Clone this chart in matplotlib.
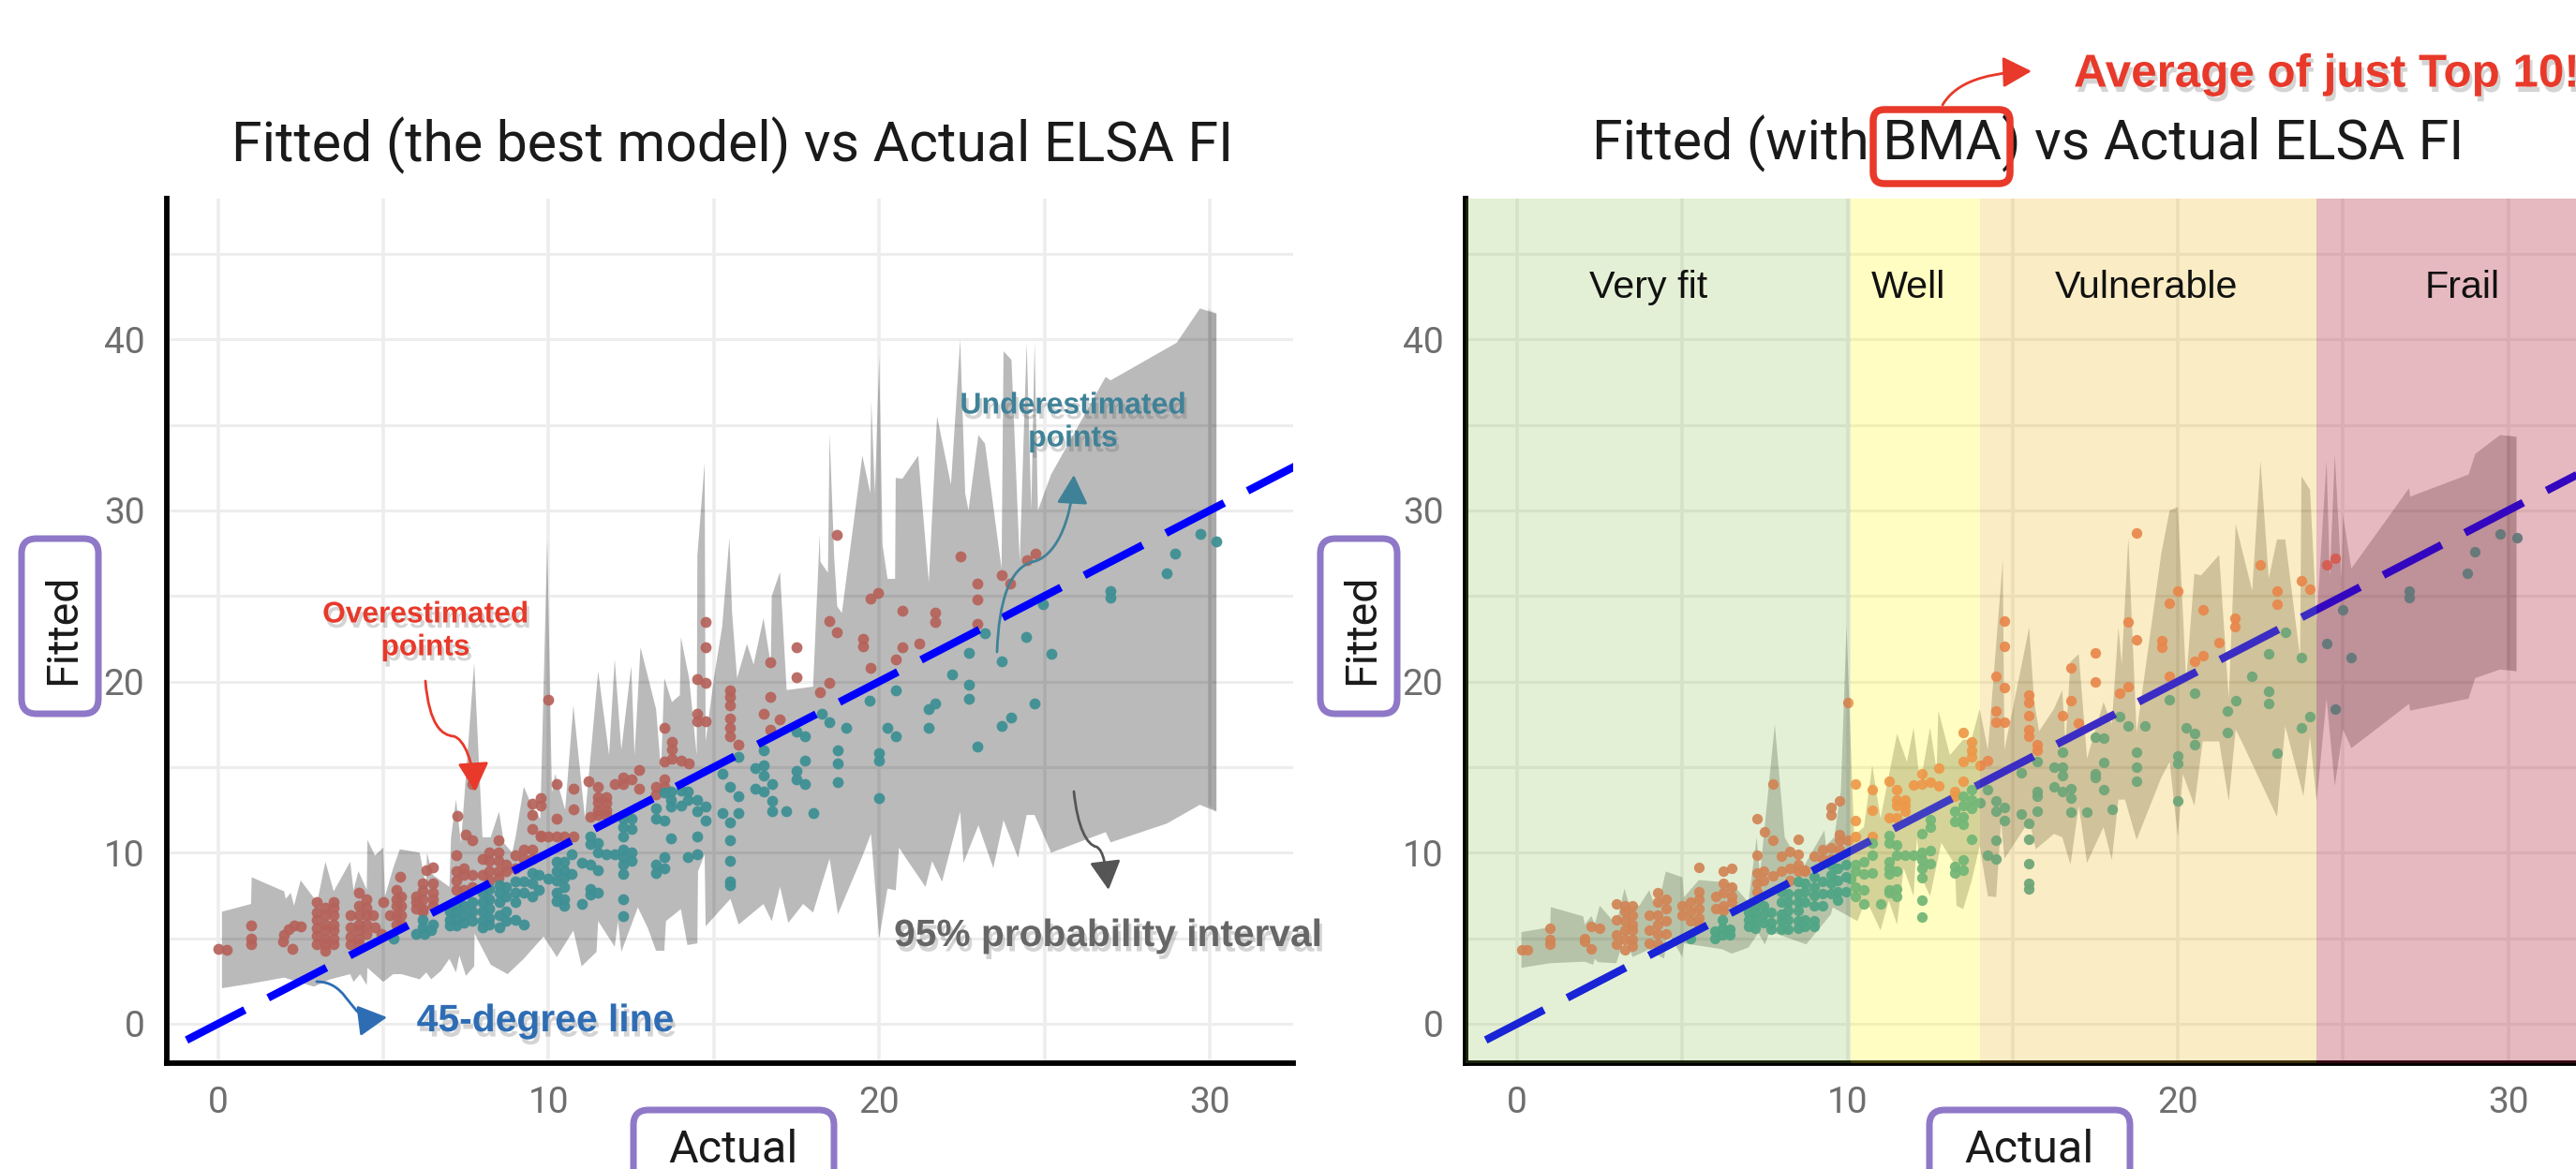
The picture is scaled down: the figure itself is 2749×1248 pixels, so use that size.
import matplotlib
matplotlib.use("Agg")
import matplotlib.pyplot as plt
import matplotlib.patheffects as pe
from matplotlib.patches import FancyBboxPatch, FancyArrowPatch
from matplotlib.path import Path
from matplotlib.transforms import Affine2D

W, H = 2749, 1248

# ---------- data (actual, [fitted...]) ----------
left_over = [(0.02,[4.4]),(0.26,[4.35]),(1,[5.73,5,4.64]),(1.96,[4.8]),(2,[5.2]),(2.25,[4.4]),(2.15,[5.55]),(2.3,[5.77]),(2.5,[5.68]),
 (3,[7.1,6.5,6.07,5.6,5.17,4.64]),(3.25,[6.8,6.36,5.8,5.46,5,4.64,4.27]),(3.5,[7.1,6.8,6.36,5.8,5.46,5,4.64]),(4,[6.36,5.63,5.1,4.64]),
 (4.25,[7.65,6.9,6.36,5.8,5.46,5,4.64]),(4.5,[7.3,6.8,6.36,5.8,5.27]),(4.7,[6.36]),(4.75,[5.63]),(4.95,[5.27]),(5,[7.1]),(5.2,[6.36]),
 (5.4,[7.8,7.3,6.9,6.36,5.8]),(5.5,[8.6]),(5.55,[7.46,6.9,6.36,5.8]),(6,[7.46,7.1,6.75]),(6.2,[8.2,7.75,7.3,6.75,6.55]),(6.3,[9]),
 (6.5,[9.15,8.2,7.65,7.3,6.9]),(7.2,[9.83,8.9,8.36,7.8]),(7.25,[12.17]),(7.45,[9.1,8.7,7.8]),(7.5,[11.06]),(7.7,[14,10.75,8.7,8]),
 (8,[9.65,8.7]),(8.2,[10,9.5,8.9,8.4]),(8.48,[10.75,10,9.5,8.9,8.55]),(8.7,[9.3,8.9]),(9,[9.83,9.1]),(9.25,[10.2,9.65]),
 (9.5,[12.85,12.2,11.4,10.2,9.65]),(9.75,[13.2,12.75,11,10.93]),(10,[18.92,10.93]),(10.23,[14,12,10.93]),(10.46,[10.93]),
 (10.75,[13.72,12.54,10.93]),(11.2,[14.2]),(11.25,[12.1]),(11.5,[13.85,13.25,12.9,12.5,12.2]),(11.75,[13.25,12.9,12.5,12.2]),
 (12,[14]),(12.25,[14.4,14.03]),(12.5,[14.3]),(12.73,[14.85,13.76]),(13.25,[13.85,13.4]),(13.5,[17.32,15.3,14.3,13.85]),
 (13.73,[16.5,16.04,15.5]),(14,[15.4]),(14.25,[15.2]),(14.5,[20.15,18.14,17.7]),(14.75,[23.5,22,19.9,17.7]),
 (15.5,[19.5,19.1,18.6,17.85,17.3,16.8]),(15.75,[16.3]),(16.5,[18.14]),(16.7,[21.1,19.1,17.2]),(17,[17.77]),(17.5,[22,20.27]),
 (18.2,[19.4]),(18.5,[23.56,19.9]),(18.72,[28.56,22.9]),(19.5,[22.5,22.06]),(19.74,[24.87,20.8]),(19.97,[25.2]),(20.5,[21.3]),
 (20.7,[24.14,22]),(21.2,[22.2]),(21.7,[24.04,23.5]),(22.47,[27.3]),(22.96,[25.7,24.8,23.35]),(23.7,[26.2]),(23.97,[25.7]),
 (24.46,[27.1]),(24.72,[27.5])]

left_under = [(5.3,[5]),(5.98,[5.27]),(6.2,[6.1,5.63]),(6.25,[5.27]),(6.45,[5.46]),(6.5,[5.8]),(7,[6.55,6.1,5.73]),(7.2,[6.9,6.55,6.1,5.73]),
 (7.45,[6.9,6.36,5.9]),(7.7,[7.1,6.55,6]),(8,[7.65,7.1,6.55,6,5.63]),(8.2,[7.86,7.3,6.75,6.2,5.8]),(8.5,[8.1,7.65,7.1,6.36,5.63]),
 (8.7,[8,7.45,6.55,6]),(9,[8.3,7.65,7.1,6.1]),(9.25,[8.3,7.65,5.8]),(9.5,[8.8,8.2,7.45]),(9.7,[8.7,7.8]),(10,[8.47]),
 (10.23,[9.47,8.92,8.38,7.65,7.19]),(10.46,[9.47,9,8.56,8,7.26,6.9]),(10.7,[9.93,8.74]),(11,[9.4,7]),(11.27,[10.93,10.5,9.3,7.9,7.55]),
 (11.5,[10.56,10,9,7.65]),(11.75,[9.93]),(12,[9.93]),(12.25,[12,11.5,10.93,10.2,9.75,9.3,8.74,7.27,6.27]),(12.5,[12,11.4,10,9.5]),
 (13.25,[12.6,12,9.3,8.8]),(13.5,[13.5,11.85,9.75,9.1]),(13.7,[13.6,13.1,12.67,10.85]),(14,[13.65,12.75]),(14.2,[13.55,13.1,9.75]),
 (14.5,[13.1,12.4,10.93,9.93]),(14.75,[12.67,11.9]),(15.25,[14.6,12.3]),(15.5,[13.85,11.75,10.75,9.5,8.3,8.1]),(15.75,[15.58,13.3,12.3]),
 (16.25,[14.95,13.75]),(16.5,[16,15.1,14.5,13.6]),(16.75,[14,13,12.4]),(17.2,[12.4]),(17.5,[17.1,14.8,14.3]),(17.75,[16.8,15.4,14]),
 (18,[12.3]),(18.25,[18.1]),(18.5,[17.6]),(18.75,[16,15.2,14.1]),(19,[17.3]),(19.7,[18.9]),(20,[15.8,15.4,13.2]),(20.25,[17.3]),
 (20.5,[19.5,16.8]),(21.5,[18.4,17.3]),(21.7,[18.7]),(22.2,[20.4]),(22.7,[21.7,19.8,19]),(22.96,[16.2]),(23.2,[22.8]),(23.7,[21.2,17.4]),
 (24,[17.9]),(24.45,[22.6]),(24.7,[18.7]),(24.95,[24.5]),(25.2,[21.6]),(27,[25.3,24.9]),(28.7,[26.3]),(28.95,[27.5]),(29.7,[28.6]),(30.2,[28.2])]

right_over = [(0.15,[4.33]),(0.3,[4.33]),(1,[5.6,4.9,4.64]),(2.05,[5,4.8]),(2.25,[5.7,4.4]),(2.5,[5.6]),(3,[7,6.1,5.2,4.64]),
 (3.25,[6.9,6.55,6,5.46,4.9,4.35]),(3.5,[6.9,6.36,5.8,5.46,4.9,4.55]),(4,[6.36,5.46,4.73]),(4.25,[7.65,7.1,6.36,5.8,5.27,4.64]),
 (4.5,[7.3,6.75,6,5.27]),(5,[6.9,6.36]),(5.25,[7.1,6.55,6]),(5.5,[9.15,7.7,7.3,6.75,6.2,5.8]),(6,[7.46,6.75]),(6.25,[8.9,8.2,7.65,6.9,6.6]),
 (6.5,[9.1,8,7.46,7.1]),(7.25,[12,9.85,8.8,8.2,7.7]),(7.45,[8.9,8.36]),(7.5,[11.2]),(7.75,[14,10.75,8.65]),(8,[9.8,8.9]),
 (8.25,[10.07,9.1,8.36]),(8.5,[10.8,9.93,9.3,8.9]),(8.7,[9,8.9]),(9,[9.8]),(9.25,[10.2,9.65]),(9.5,[12.65,12.2,10.3,9.65]),
 (9.75,[13,11.05,10.75,10.2]),(10,[18.8,10.75]),(10.25,[14,11.9,10.93]),(10.75,[13.7,12.5,10.93]),(11.25,[14.16,12.06]),
 (11.5,[13.7,13.1,12.75,12.06]),(11.75,[13.1,12.75,12.4]),(12,[13.94]),(12.25,[14.6,14]),(12.5,[14.1]),(12.75,[14.95,13.9]),
 (13.25,[13.6,13.3]),(13.5,[17.04,15.3,14.2]),(13.75,[16.5,16,15.6]),(14,[15.1]),(14.25,[15.4]),(14.5,[20.33,18.3,17.6]),
 (14.75,[23.56,22.06,19.65,17.6]),(15.5,[19.2,18.8,18,17.2,16.8]),(15.75,[16.3,16]),(16.5,[18]),(16.75,[20.8,18.87]),(17,[17.55]),
 (17.5,[21.7,20]),(18.25,[19.3]),(18.5,[23.5,19.7]),(18.75,[28.67,22.46]),(19.5,[22.4,22]),(19.75,[24.6,20.3]),(20,[25.3]),
 (20.5,[21.2]),(20.75,[24.2,21.5]),(21.24,[22.3]),(21.74,[23.7,23.2]),(22.5,[26.8]),(23,[25.3,24.5]),(23.74,[25.9]),(24,[25.4]),
 (24.5,[26.8]),(24.75,[27.2])]

right_under = [(5.25,[5]),(5.98,[5.4,5.0]),(6.2,[6.1,5.6,5.2]),(6.45,[5.5,5.2]),(7,[6.5,6.1,5.7]),(7.2,[6.9,6.5,6.1,5.6]),
 (7.45,[6.9,6.4,5.9]),(7.7,[6.5,5.9,5.5]),(8,[7.7,7.1,6.4,6,5.5]),(8.2,[7.6,7.1,6.6,6.1,5.5]),(8.5,[8.3,7.6,7.1,6.6,6,5.6]),
 (8.7,[8.2,7.7,7.1,6.1,5.7]),(9,[8.6,8,7.5,6.9,6,5.7]),(9.25,[8.3,7.6,6.9]),(9.5,[9.3,8.7,8.2,7.6]),(9.7,[9.1,8.4,7.7,7.2]),(9.95,[9.3,8.6,7.7]),
 (10.1,[8.47]),(10.25,[9.3,8.9,8,7.46]),(10.5,[9.47,8.74,7.8,7]),(10.75,[10.56,9.83,8.8]),(11,[7]),
 (11.25,[11,10.56,9.47,9.1,8.74,7.83,7.65]),(11.5,[10.47,9.83,8.9,7.9,7.46]),(11.75,[9.83]),(12,[9.83]),(12.25,[11.1,10,9.56,9.1,8.56,7.2,6.22]),
 (12.5,[11.93,11.5,10.1,9.38]),(13.25,[12.4,11.84,9.2,8.83]),(13.5,[13.3,12.76,12.1,11.66,9.56,9]),(13.75,[13.67,13.1,12.57,10.78]),
 (14,[12.94]),(14.25,[13.67,9.83]),(14.5,[13,12.4,10.75,9.65]),(14.75,[12.66,11.88]),(15.25,[14.67,12.24]),(15.5,[11.7,10.78,9.38,8.2,7.9]),
 (15.75,[15.35,13.58,13.3,12.4]),(16.25,[15,13.85]),(16.5,[15.86,15,14.5,13.58]),(16.75,[13.76,13.2,12.35]),(17.25,[12.35]),
 (17.5,[16.77,14.6,14.4]),(17.75,[16.68,15.27,13.67]),(18,[12.54]),(18.25,[17.96]),(18.5,[17.4]),(18.75,[15.86,15,14.18]),(19,[17.4]),
 (19.75,[18.96]),(20,[15.67,15.2,13.03]),(20.25,[17.3]),(20.5,[19.3,16.95,16.3]),(21.5,[18.3,17]),(21.75,[18.9]),(22.25,[20.3]),
 (22.75,[21.6,19.45,18.7]),(23,[15.8]),(23.25,[22.9]),(23.75,[21.4,17.3]),(24,[17.95]),(24.5,[22.2]),(24.75,[18.4]),(25,[24.2]),
 (25.25,[21.4]),(27,[25.3,24.9]),(28.75,[26.3]),(29,[27.6]),(29.75,[28.6]),(30.25,[28.4])]

left_upper = [(0.12,6.55),(1,7.0),(1.02,8.56),(2,7.74),(2.05,7.3),(2.2,7.65),(2.3,6.9),(2.5,8.38),(3,7.1),(3.25,9.47),(3.5,7.74),(4,9.47),
 (4.1,7.8),(4.25,8.92),(4.5,7.83),(4.52,10.75),(4.75,9.83),(5,10.3),(5.05,7.45),(5.3,9.1),(5.5,10.2),(6.1,10),(6.3,8),(6.32,10),(6.5,8.7),
 (7,8),(7.05,10.9),(7.2,13.1),(7.35,10.56),(7.75,21.1),(8,10.9),(8.25,10.9),(8.5,12.4),(8.65,10.56),(8.9,10),(9,10.9),(9.25,13.85),
 (9.57,12.4),(9.75,12),(9.96,28.3),(10.1,13.5),(10.2,14.6),(10.5,12.5),(10.75,18.6),(11.1,12),(11.5,20.6),(11.83,15.7),(12,21.3),(12.2,16),
 (12.5,20.9),(12.6,15.7),(12.78,22),(13.25,18.4),(13.4,14.8),(13.5,20.2),(13.73,18.8),(13.97,19.2),(14,22.6),(14.25,20.2),(14.48,15.7),
 (14.5,27.35),(14.72,32.8),(14.75,16.5),(15,20.2),(15.25,23.2),(15.47,28.4),(15.55,24),(15.7,20.2),(16,22.2),(16.2,21),(16.5,23.7),
 (16.72,21),(16.75,25),(17,26.4),(17.2,19.5),(18,19.7),(18.2,28.6),(18.22,27),(18.45,26.35),(18.5,34.5),(18.64,27.2),(18.73,24.4),
 (18.87,24),(19.49,33.2),(19.73,31),(19.76,36.4),(19.87,31),(20,39),(20.1,28),(20.25,26),(20.48,26),(20.5,31.9),(20.7,31.85),(21.18,33.2),
 (21.5,25.8),(21.75,35.5),(22.17,31.5),(22.45,40),(22.6,31),(22.7,30),(23,34.4),(23.2,33.9),(23.7,26.6),(23.76,39.3),(24,38.8),(24.25,27),
 (24.46,39.8),(24.6,30),(24.7,39.9),(24.8,30),(25.2,32.1),(26.85,37.8),(27,37.6),(29,39.8),(29.7,41.8),(30.2,41.5)]

left_lower = [(0.12,2.08),(1,2.35),(2,2.7),(2.9,2.17),(3.4,2.6),(4,2.9),(4.1,2.45),(4.3,2.9),(4.5,2.26),(4.52,3.27),(5,2.45),(5.3,2.9),
 (5.55,2.9),(6.1,2.6),(6.3,3),(6.45,2.6),(6.75,3.1),(7,3.8),(7.2,3),(7.3,4),(7.5,2.8),(7.75,3.36),(7.76,5.27),(8.25,3.45),(8.76,2.9),
 (9.25,3.8),(9.85,5.1),(10.25,3.9),(10.75,5.45),(11,3.36),(11.45,4.2),(11.5,6),(12,4.5),(12.1,6),(12.2,4.2),(12.7,6.8),(13,5.6),(13.25,4.27),
 (13.5,4.27),(13.55,6),(14,6.7),(14.2,4.6),(14.5,4.7),(14.52,8.9),(14.72,9.9),(14.75,5.7),(15.5,7.3),(15.75,5.8),(16.5,7),(16.75,6),(17,8),
 (17.25,5.9),(17.7,7),(18,6.5),(18.25,8.1),(18.5,9.65),(18.75,6.4),(19.5,9.83),(19.75,11.1),(20,5),(20.25,7.9),(20.5,7.8),(20.6,10.3),
 (20.8,9.7),(21.4,8),(21.6,9.5),(21.9,8.3),(22.45,12.4),(22.55,9.4),(23,11.6),(23.45,9.1),(23.76,11.9),(24.2,9.7),(24.46,12.2),(24.7,12.2),
 (25.2,10),(26.85,11.2),(27,10.6),(28.7,11.7),(29.7,12.8),(30.2,12.4)]

right_upper = [(0.13,5.36),(1,5.64),(1.02,6.82),(2,6.28),(2.05,5.8),(2.25,6.3),(2.35,5.8),(2.5,6.9),(3,5.8),(3.25,7.9),(3.4,6.9),(3.7,6.9),
 (4,7.8),(4.15,7),(4.3,7.2),(4.5,8.9),(5,8.56),(5.05,7.4),(5.5,8.4),(6.1,8.3),(6.5,8.2),(7,7.1),(7.25,10.9),(7.35,8.7),(7.8,17.5),(8.1,10.9),
 (8.3,10.2),(8.65,9.1),(9.3,11.3),(9.35,10.4),(9.6,10.9),(9.8,13.6),(9.97,23.3),(10.2,11),(10.5,11.5),(10.75,15.1),(11,12),(11.5,16.95),
 (11.8,15.3),(12,17.3),(12.2,14),(12.5,17.3),(12.7,14.8),(12.75,18.3),(13.1,15.7),(13.5,16.6),(13.75,16.6),(14,18.4),(14.25,16),(14.7,27.1),
 (14.75,16),(15.5,23.16),(15.65,18.8),(15.8,17.1),(16.25,18.4),(16.5,19.5),(16.6,16.4),(16.75,21.15),(17,21.6),(17.25,15.5),(17.75,18.8),
 (18,17.5),(18.2,23.16),(18.3,21),(18.5,28.4),(18.75,17),(19.5,27.5),(19.75,30),(20,30.2),(20.25,20),(20.5,26.3),(20.7,26.2),(21.25,27.4),
 (21.54,19),(21.75,29.2),(22.25,25.3),(22.5,32.9),(22.75,26),(23,28.3),(23.25,28.3),(23.7,21.4),(23.74,32),(24,31.2),(24.2,23.5),(24.5,32.9),
 (24.6,26),(24.75,33.3),(24.95,26),(25,29.7),(25.25,26.6),(27,31.3),(27.03,30.8),(28.8,32.1),(29,33.3),(29.75,34.4),(30.25,34.3)]

right_lower = [(0.13,3.27),(1,3.54),(2.05,3.63),(2.3,3.45),(2.35,3.8),(2.45,3.6),(3,3.54),(3.25,5),(3.5,3.9),(4,4.35),(4.45,3.8),(4.55,5.4),
 (5,3.9),(5.05,4.7),(6.2,4.36),(6.5,4.1),(7,4.45),(7.3,5.3),(7.5,4.64),(7.65,5.4),(8.75,4.64),(9.5,6.4),(9.55,6.8),(10.3,6),(10.55,7.2),
 (10.75,6.5),(11,5.46),(11.25,7.2),(11.5,5.8),(11.7,9.1),(12,7.46),(12.1,10.9),(12.25,8.5),(12.5,7.46),(12.84,10.57),(13.25,9.3),(13.3,6.9),
 (13.5,6.7),(13.75,8.3),(14,10.4),(14.25,7.46),(14.5,7.4),(14.65,11.8),(14.75,9.65),(15.5,11.85),(15.7,10.2),(16.25,11.1),(16.5,10.9),
 (16.75,9.3),(17,12.75),(17.25,9.4),(17.75,11.5),(18,9.56),(18.2,13.1),(18.4,13.1),(18.75,10.75),(19.5,14.4),(19.75,15.3),(20,10.9),
 (20.15,14.6),(20.5,12.75),(20.75,16.5),(21.25,16.5),(21.54,13),(21.75,17.2),(21.98,16.3),(23,12.1),(23.25,17.4),(23.8,13.3),(24,16.8),
 (24.2,13),(24.5,19),(24.75,13.9),(25,17.2),(25.25,16.1),(27,18.7),(27.03,18.3),(28.8,19),(29,20.2),(29.75,20.7),(30.25,20.6)]

line_x = [-0.95, 33.5]
tick_values = [0, 10, 20, 30]
ytick_values = [0, 10, 20, 30, 40]
grid_values = [0, 5, 10, 15, 20, 25, 30, 35, 40, 45]

zone_edges = [-1.6, 10.1, 14.0, 24.2, 33.0]
zone_names = ["Very fit", "Well", "Vulnerable", "Frail"]
zone_label_x = [3.97, 11.83, 19.06, 28.6]
zone_colors = [("#7AB630", .2), ("#FFF80C", .25), ("#ECB414", .25), ("#AC192D", .3)]

# ---------- figure ----------
fig = plt.figure(figsize=(W/100, H/100), dpi=100, facecolor="white")
plt.rcParams["font.family"] = ["Roboto", "DejaVu Sans"]
PX = Affine2D().scale(1, -1).translate(0, H)

def axes_px(l, r, t, b):
    return fig.add_axes([l/W, 1-b/H, (r-l)/W, (b-t)/H])

def expand(cols):
    xs, ys = [], []
    for x, vals in cols:
        for v in vals:
            xs.append(x); ys.append(v)
    return xs, ys

def panel(ax, over, under, upper, lower, xlim, band_a, ms, c_over, c_under):
    ax.set_xlim(*xlim); ax.set_ylim(-2.3, 48.22)
    ax.set_facecolor("white")
    for g in grid_values:
        ax.axhline(g, color="#EDEDED", lw=2.2, zorder=1)
    for g in grid_values[:7]:
        ax.axvline(g, color="#EDEDED", lw=2.6, zorder=1)
    ux, uy = zip(*upper); lx, ly = zip(*lower)
    ax.fill(list(ux)+list(lx)[::-1], list(uy)+list(ly)[::-1], color="black", alpha=band_a, lw=0, zorder=2)
    ax.fill([29.95, ux[-1], ux[-1], 29.95], [uy[-2], uy[-1], ly[-1], ly[-2]], color="black", alpha=band_a*.3, lw=0, zorder=2)
    x, y = expand(over)
    ax.scatter(x, y, s=ms, color=c_over, alpha=.92, lw=0, zorder=3)
    x, y = expand(under)
    ax.scatter(x, y, s=ms, color=c_under, alpha=.95, lw=0, zorder=3)
    ax.plot(line_x, line_x, color="#0000FF", lw=6, ls=(0, (8.4, 3.37)), dash_capstyle="butt", zorder=4)
    for s in ("top", "right"):
        ax.spines[s].set_visible(False)
    for s in ("left", "bottom"):
        ax.spines[s].set_linewidth(4.2); ax.spines[s].set_color("black")
    ax.set_xticks(tick_values); ax.set_yticks(ytick_values)
    ax.tick_params(length=0, labelsize=28, labelcolor="#6E6E6E", pad=17)

ax1 = axes_px(178, 1380, 212, 1135)
panel(ax1, left_over, left_under, left_upper, left_lower, (-1.548, 32.52), .27, 72, "#B5625A", "#3F9094")
ax2 = axes_px(1564, 2749, 212, 1135)
panel(ax2, right_over, right_under, right_upper, right_lower, (-1.56, 32.05), .22, 66, "#E8785E", "#45A19B")
for i, name in enumerate(zone_names):
    c, a = zone_colors[i]
    ax2.axvspan(zone_edges[i], zone_edges[i+1], color=c, alpha=a, lw=0, zorder=6)
    ax2.text(zone_label_x[i], 43.0, name, ha="center", va="center", fontsize=29.7,
             family=["Liberation Sans"], color="#111111", zorder=7)

def T(x, y, s, **kw):
    return fig.text(x, y, s, transform=PX, ha=kw.pop("ha", "center"), va=kw.pop("va", "center"), **kw)

shadow = [pe.SimplePatchShadow(offset=(2, -4), shadow_rgbFace="#666666", alpha=.28), pe.Normal()]

T(782, 155, "Fitted (the best model) vs Actual ELSA FI", fontsize=42.5, color="#1a1a1a")
T(2164, 153, "Fitted (with BMA) vs Actual ELSA FI", fontsize=42.5, color="#1a1a1a")

T(67, 672, "Fitted", rotation=90, fontsize=33.5, color="#1a1a1a")
T(1453, 672, "Fitted", rotation=90, fontsize=33.5, color="#1a1a1a")
T(782, 1228, "Actual", fontsize=35, color="#1a1a1a")
T(2165, 1228, "Actual", fontsize=35, color="#1a1a1a")

def rbox(x0, y0, x1, y1, col, lw=7, r=16):
    p = FancyBboxPatch((x0+r, y0+r), x1-x0-2*r, y1-y0-2*r, boxstyle=f"round,pad={r},rounding_size={r}",
                       transform=PX, fc="none", ec=col, lw=lw*.72, clip_on=False, zorder=10)
    fig.add_artist(p)

PURPLE = "#8F78C8"
rbox(23, 575, 105, 762, PURPLE)
rbox(1409, 575, 1491, 762, PURPLE)
rbox(676, 1185, 890, 1300, PURPLE)
rbox(2059, 1185, 2273, 1300, PURPLE)
rbox(1999, 117, 2145, 196, "#E8392A", lw=7.5, r=12)

BOLD = dict(family=["Liberation Sans"], fontweight="bold", path_effects=shadow)
T(454, 674, "Overestimated\npoints", fontsize=22.8, color="#E8392A", linespacing=1.22, **BOLD)
T(1145, 451, "Underestimated\npoints", fontsize=23, color="#3F8298", linespacing=1.22, **BOLD)
T(1183, 999, "95% probability interval", fontsize=29.3, color="#666666", **BOLD)
T(582, 1090, "45-degree line", fontsize=29.4, color="#2E6DB4", **BOLD)
T(2213, 80, "Average of just Top 10!", ha="left", fontsize=35.5, color="#E8392A", **BOLD)

def curve(points, col, lw=2.0, head=19):
    codes = [Path.MOVETO] + [Path.CURVE4]*(len(points)-1)
    a = FancyArrowPatch(path=Path(points, codes), transform=PX, color=col, lw=lw,
                        arrowstyle=f"-|>,head_length={head/14:.2f},head_width={head/26:.2f}",
                        mutation_scale=14, clip_on=False, zorder=11, shrinkA=0, shrinkB=0)
    fig.add_artist(a)

curve([(454,727),(458,775),(472,785),(484,786),(496,789),(505,815),(507,845)], "#E8392A")
curve([(1064,696),(1066,640),(1078,607),(1101,600),(1125,596),(1143,560),(1146,507)], "#3F8298")
curve([(1146,845),(1150,884),(1160,902),(1170,904),(1178,908),(1180,925),(1183,950)], "#555555")
curve([(338,1048),(368,1048),(372,1078),(389,1085),(395,1087),(405,1087),(413,1086)], "#2E6DB4")
curve([(2073,112),(2085,92),(2110,78),(2168,76)], "#E8392A")

fig.savefig("out.png", dpi=100)
